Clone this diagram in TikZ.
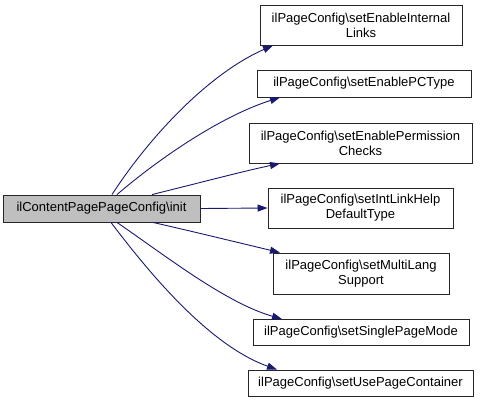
\documentclass[tikz,border=0pt]{standalone}
\usepackage{fontspec}
\setmainfont{Liberation Sans}
\usetikzlibrary{arrows.meta}
\definecolor{edgeblue}{HTML}{191970}
\definecolor{srcgray}{HTML}{BFBFBF}
\newcommand{\bs}{\textbackslash}
\begin{document}
\begin{tikzpicture}[x=1pt,y=-1pt,
  box/.style={draw=black!85,line width=0.9pt,fill=white,inner sep=0pt,align=center,
    font=\fontsize{13}{15}\selectfont},
  edge/.style={draw=edgeblue,line width=0.9pt,-{Triangle[length=10pt,width=7pt]}}]
\useasboundingbox (0,0) rectangle (480,402);
\node[box,fill=srcgray,minimum width=197pt,minimum height=27pt] (src) at (101.5,208.5) {ilContentPagePageConfig\bs init};
\node[box,minimum width=202pt,minimum height=40pt] (n1) at (361,25) {ilPageConfig\bs setEnableInternal\\Links};
\node[box,minimum width=214pt,minimum height=27pt] (n2) at (364,83.5) {ilPageConfig\bs setEnablePCType};
\node[box,minimum width=223pt,minimum height=40pt] (n3) at (360.5,143) {ilPageConfig\bs setEnablePermission\\Checks};
\node[box,minimum width=185pt,minimum height=40pt] (n4) at (360.5,208) {ilPageConfig\bs setIntLinkHelp\\DefaultType};
\node[box,minimum width=176pt,minimum height=41pt] (n5) at (361,273.5) {ilPageConfig\bs setMultiLang\\Support};
\node[box,minimum width=216pt,minimum height=26pt] (n6) at (361,332.5) {ilPageConfig\bs setSinglePageMode};
\node[box,minimum width=225pt,minimum height=26pt] (n7) at (360.5,383) {ilPageConfig\bs setUsePageContainer};
\draw[edge] ([xshift=10.5pt]src.north) .. controls (150,136) and (209,73.5) .. ([xshift=-88pt]n1.south);
\draw[edge] ([xshift=15.5pt]src.north) .. controls (162,156) and (223,115.5) .. ([xshift=-84pt]n2.south);
\draw[edge] ([xshift=50.5pt]src.north) .. controls (195,184) and (240,172) .. ([xshift=-80.5pt]n3.south);
\draw[edge] (src.east) -- (n4.west);
\draw[edge] ([xshift=51.5pt]src.south) .. controls (195,232) and (240,243) .. ([xshift=-81pt]n5.north);
\draw[edge] ([xshift=15.5pt]src.south) .. controls (166,256) and (225,302.5) .. ([xshift=-79pt]n6.north);
\draw[edge] ([xshift=9.5pt]src.south) .. controls (153,278) and (211,346) .. ([xshift=-83.5pt]n7.north);
\end{tikzpicture}
\end{document}
